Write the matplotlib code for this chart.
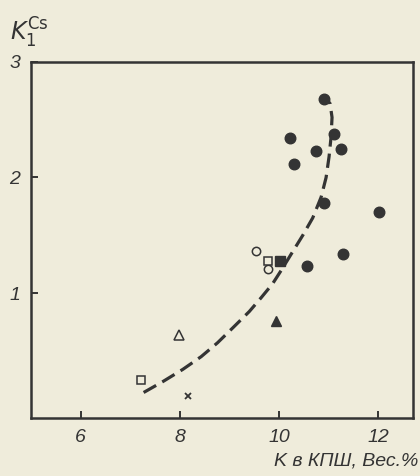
import matplotlib
matplotlib.use("Agg")
import matplotlib.pyplot as plt

plt.rcParams["font.family"] = ["Liberation Sans Narrow", "Liberation Sans", "DejaVu Sans"]

fs = 14
ink = "#343434"
paper = "#efecdb"

# filled circles
fc_x = [10.91, 11.11, 10.22, 10.74, 11.25, 10.31, 10.91, 12.02, 11.30, 10.57]
fc_y = [2.68, 2.38, 2.34, 2.23, 2.25, 2.12, 1.78, 1.70, 1.34, 1.23]
# filled square / filled triangle
fs_x, fs_y = [10.03], [1.28]
ft_x, ft_y = [9.94], [0.76]
# open circles
oc_x = [9.54, 9.78]
oc_y = [1.36, 1.21]
# open squares
os_x = [9.77, 7.21]
os_y = [1.28, 0.25]
# open triangle, cross
ot_x, ot_y = [7.99], [0.64]
cr_x, cr_y = [8.16], [0.11]

# dashed trend curve
curve_x = [7.27, 7.66, 8.06, 8.43, 8.76, 9.07, 9.40, 9.64, 9.87, 10.05, 10.25, 10.48,
           10.68, 10.85, 10.95, 11.01, 11.05, 11.07, 11.03, 10.95]
curve_y = [0.14, 0.235, 0.34, 0.45, 0.57, 0.70, 0.84, 0.96, 1.08, 1.20, 1.34, 1.50,
           1.65, 1.83, 2.00, 2.18, 2.35, 2.52, 2.64, 2.68]

fig = plt.figure(figsize=(4.2, 4.76), dpi=100, facecolor=paper)
ax = fig.add_axes([0.074, 0.122, 0.909, 0.748])
ax.set_facecolor(paper)

ax.plot(curve_x, curve_y, color=ink, lw=2.3, dashes=(4.5, 2.2), zorder=1,
        solid_joinstyle="round", dash_joinstyle="round")

ax.plot(fc_x, fc_y, "o", ms=7.6, color=ink, mec=ink, zorder=3)
ax.plot(fs_x, fs_y, "s", ms=7, color=ink, mec=ink, zorder=3)
ax.plot(ft_x, ft_y, "^", ms=7.5, color=ink, mec=ink, zorder=3)
ax.plot(oc_x, oc_y, "o", ms=6, mfc=paper, mec=ink, mew=1.1, zorder=3)
ax.plot(os_x, os_y, "s", ms=6, mfc=paper, mec=ink, mew=1.1, zorder=3)
ax.plot(ot_x, ot_y, "^", ms=7, mfc=paper, mec=ink, mew=1.1, zorder=3)
ax.plot(cr_x, cr_y, "x", ms=5, color=ink, mew=1.3, zorder=3)

ax.set_xlim(5, 12.7)
ax.set_ylim(-0.08, 3)
ax.set_xticks([6, 8, 10, 12])
ax.set_yticks([1, 2, 3])
ax.tick_params(direction="in", length=5, width=1.4, color=ink, labelcolor=ink,
               labelsize=fs, pad=8)
for lab in ax.get_xticklabels() + ax.get_yticklabels():
    lab.set_fontstyle("italic")
for s in ax.spines.values():
    s.set_color(ink)
    s.set_linewidth(1.8)

fig.text(0.025, 0.915, r"$K_{\mathit{1}}^{\mathrm{Cs}}$", fontsize=17, color=ink)
fig.text(0.995, 0.022, "K в КПШ, Вес.%", ha="right", fontsize=fs, color=ink,
         fontstyle="italic")

fig.savefig("out.png", dpi=100, facecolor=paper)
